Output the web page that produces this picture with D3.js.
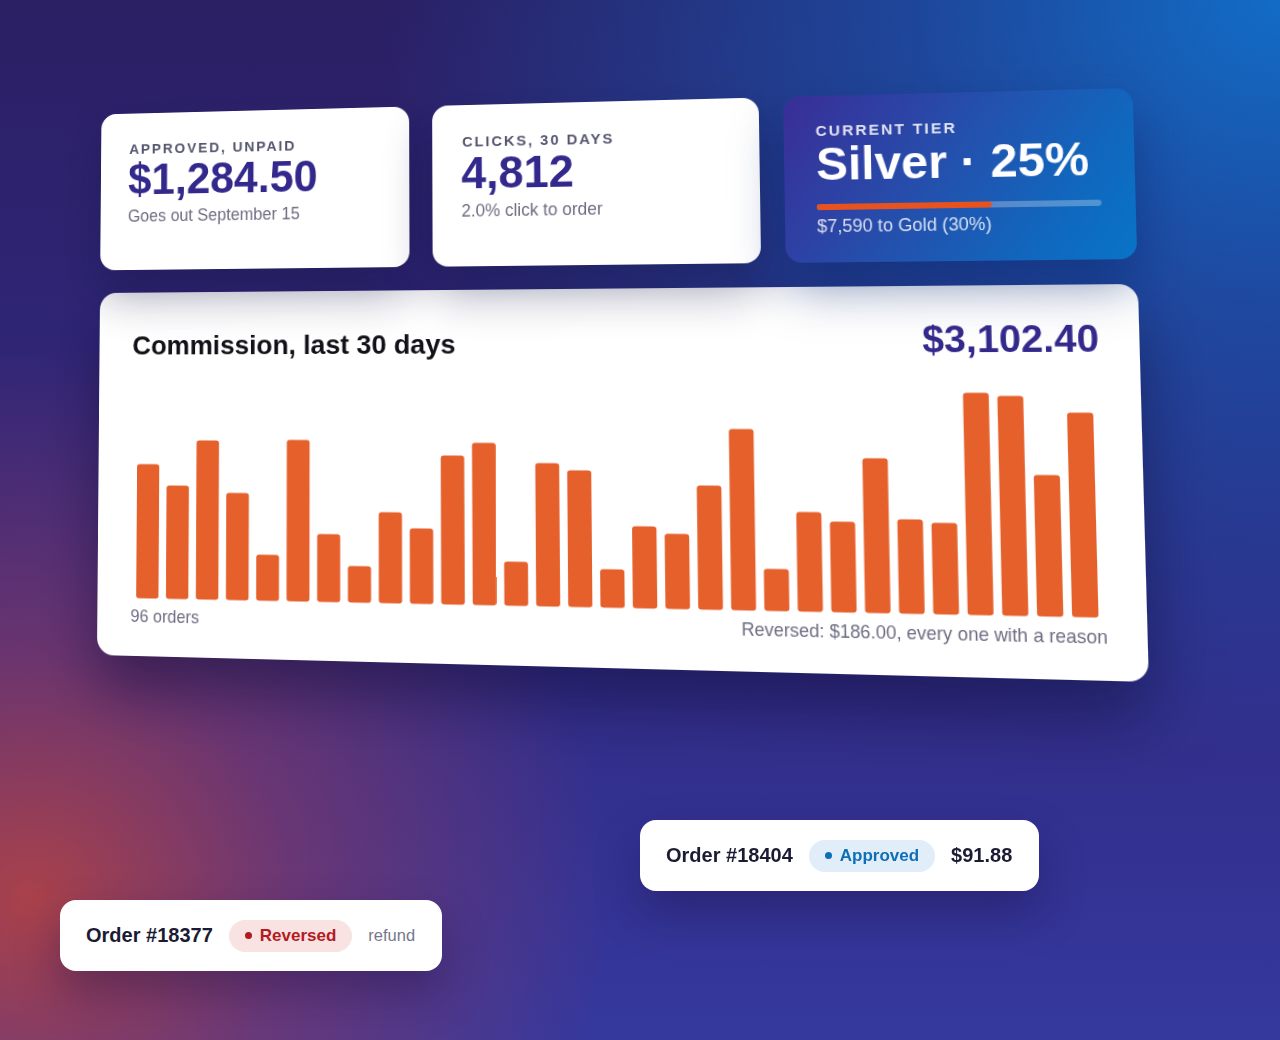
<!DOCTYPE html>
<html><head><meta charset="utf-8">
<script src="https://cdn.jsdelivr.net/npm/d3@7"></script>
<style>
html,body{margin:0;padding:0;width:1280px;height:1040px;overflow:hidden;}
body{font-family:"Liberation Sans",Arial,sans-serif;position:relative;
 background:
  radial-gradient(ellipse 580px 560px at 30px 900px, rgba(176,66,70,0.95) 0%, rgba(150,58,92,0.55) 45%, rgba(120,50,120,0) 100%),
  radial-gradient(ellipse 900px 760px at 1280px 0px, rgba(18,108,198,1) 0%, rgba(22,92,184,0.65) 40%, rgba(40,60,160,0) 100%),
  linear-gradient(180deg,#2b1f64 0%,#30287f 50%,#35389d 100%);}
#group{position:absolute;left:0;top:0;width:1040px;height:378px;transform-origin:0 0;}
.card{position:absolute;background:#fff;border-radius:16px;overflow:hidden;}
.card svg{position:absolute;left:0;top:0;}
.order{position:absolute;background:#fff;border-radius:16px;display:flex;align-items:center;box-sizing:border-box;
 box-shadow:0 22px 44px rgba(25,15,70,0.38);}
.order .oid{font-weight:bold;font-size:20px;color:#1b1b33;}
.pill{display:flex;align-items:center;height:32px;border-radius:16px;padding:0 16px;margin-left:16px;font-weight:bold;font-size:17px;}
.pill .dot{width:7px;height:7px;border-radius:50%;margin-right:8px;}
</style></head><body>
<div id="group"></div>
<script>
// ---------- data ----------
const dailyCommission = [124.8,105.0,147.2,98.7,42.2,148.1,61.9,33.2,82.6,68.2,
                         134.7,146.3,39.5,128.4,122.1,34.1,72.7,66.4,109.5,159.8,
                         36.8,87.1,79.0,134.7,81.7,79.0,192.1,189.4,121.2,175.1];
const commissionTotal = 3102.40;
const orderCount = 96;
const reversedTotal = 186.00;
const kpiLabels = ["APPROVED, UNPAID","CLICKS, 30 DAYS","CURRENT TIER"];
const kpiValues = ["$1,284.50","4,812","Silver · 25%"];
const kpiNotes  = ["Goes out September 15","2.0% click to order","$7,590 to Gold (30%)"];
const goldThreshold = 20000, toGold = 7590;
const orderIds = ["Order #18404","Order #18377"];
const orderStatuses = ["Approved","Reversed"];
const orderDetails = ["$91.88","refund"];

// ---------- perspective plane ----------
const W = 1040, H = 378;
const quad = [[100,293],[1138,284],[1149,682],[97,655]];
function quadMatrix(q){
  const [[x0,y0],[x1,y1],[x2,y2],[x3,y3]] = q;
  const dx1=x1-x2, dx2=x3-x2, dx3=x0-x1+x2-x3;
  const dy1=y1-y2, dy2=y3-y2, dy3=y0-y1+y2-y3;
  const det = dx1*dy2 - dx2*dy1;
  const g = (dx3*dy2 - dx2*dy3)/det, h = (dx1*dy3 - dx3*dy1)/det;
  const a = x1-x0+g*x1, b = x3-x0+h*x3, c = x0;
  const d = y1-y0+g*y1, e = y3-y0+h*y3, f = y0;
  return `matrix3d(${a/W},${d/W},0,${g/W},${b/H},${e/H},0,${h/H},0,0,1,0,${c},${f},0,1)`;
}
const group = d3.select("#group").style("transform", quadMatrix(quad));

// chart card (drawn first so top-card shadows fall on it)
const chartCard = group.append("div").attr("class","card")
  .style("left","0px").style("top","0px").style("width",W+"px").style("height",H+"px")
  .style("border-radius","18px").style("box-shadow","0 34px 60px rgba(15,12,55,0.5)");
const svg = chartCard.append("svg").attr("width",W).attr("height",H);
svg.append("text").attr("x",36).attr("y",65).attr("font-size",28).attr("font-weight","bold")
  .attr("fill","#111118").text("Commission, last 30 days");
svg.append("text").attr("x",1003).attr("y",65).attr("text-anchor","end").attr("font-size",37)
  .attr("font-weight","bold").attr("fill","#33298c").text(d3.format("$,.2f")(commissionTotal));

const x = d3.scaleBand().domain(d3.range(dailyCommission.length)).range([42,996]).paddingInner(0.25);
const y = d3.scaleLinear().domain([0,d3.max(dailyCommission)]).range([318.5,104.5]);
svg.append("g").selectAll("rect").data(dailyCommission).join("rect")
  .attr("x",(d,i)=>x(i)).attr("width",x.bandwidth())
  .attr("y",d=>y(d)).attr("height",d=>y(0)-y(d))
  .attr("rx",3).attr("fill","#e6602c");
svg.append("text").attr("x",36).attr("y",343).attr("font-size",17.5).attr("fill","#6d6c82")
  .text(`${orderCount} orders`);
svg.append("text").attr("x",1004).attr("y",343).attr("text-anchor","end").attr("font-size",17.5)
  .attr("fill","#6d6c82").text(`Reversed: ${d3.format("$,.2f")(reversedTotal)}, every one with a reason`);

// top KPI cards
const cw = (W - 2*24)/3, ch = 166, ctop = -190;
kpiLabels.forEach((lab,i)=>{
  const dark = i===2;
  const card = group.append("div").attr("class","card")
    .style("left",(i*(cw+24))+"px").style("top",ctop+"px")
    .style("width",cw+"px").style("height",ch+"px")
    .style("overflow","visible")
    .style("background", dark ? "linear-gradient(125deg,#3a2d97 0%,#2450ad 45%,#0f69bf 80%,#0874c6 100%)" : "#fff")
    .style("box-shadow", dark ? "0 24px 48px rgba(10,40,110,0.5)" : "0 24px 48px rgba(20,20,70,0.44)");
  const s = card.append("svg").attr("width",cw).attr("height",ch).style("overflow","visible");
  s.append("text").attr("x",31).attr("y",dark?40:43).attr("font-size",15).attr("font-weight","bold")
    .attr("letter-spacing","2px").attr("fill",dark?"rgba(255,255,255,0.85)":"#55556f").text(lab);
  s.append("text").attr("x",dark?31:30).attr("y",dark?84:86.5).attr("font-size",46).attr("font-weight","bold")
    .attr("fill",dark?"#ffffff":"#33298c").text(kpiValues[i]);
  if(dark){
    const px = d3.scaleLinear().domain([0,1]).range([31,cw-31]);
    const prog = (goldThreshold - toGold)/goldThreshold;
    s.append("rect").attr("x",px(0)).attr("y",108).attr("width",px(1)-px(0)).attr("height",6)
      .attr("rx",3).attr("fill","rgba(255,255,255,0.28)");
    s.append("rect").attr("x",px(0)).attr("y",108).attr("width",px(prog)-px(0)).attr("height",6)
      .attr("rx",3).attr("fill","#e8521e");
    s.append("text").attr("x",31).attr("y",136.5).attr("font-size",17.5)
      .attr("fill","rgba(255,255,255,0.82)").text(kpiNotes[i]);
  } else {
    s.append("text").attr("x",30).attr("y",115).attr("font-size",17.5).attr("fill","#6d6c82").text(kpiNotes[i]);
  }
});

// flat order cards
const orderBoxes = [{l:640,t:820,w:399},{l:60,t:900,w:382}];
const pillStyle = {Approved:{bg:"#e1edf8",fg:"#0d6fb8"},Reversed:{bg:"#f8e2e2",fg:"#b31b1f"}};
orderIds.forEach((id,i)=>{
  const b = orderBoxes[i];
  const o = d3.select("body").append("div").attr("class","order")
    .style("left",b.l+"px").style("top",b.t+"px").style("width",b.w+"px").style("height","71px")
    .style("padding-left","26px");
  o.append("span").attr("class","oid").text(id);
  const ps = pillStyle[orderStatuses[i]];
  const p = o.append("div").attr("class","pill").style("background",ps.bg).style("color",ps.fg);
  p.append("span").attr("class","dot").style("background",ps.fg);
  p.append("span").text(orderStatuses[i]);
  const det = o.append("span").style("margin-left","16px").text(orderDetails[i]);
  if(orderStatuses[i]==="Approved") det.style("font-weight","bold").style("font-size","20px").style("color","#1b1b33");
  else det.style("font-size","16.5px").style("color","#77778c");
});
</script>
</body></html>
